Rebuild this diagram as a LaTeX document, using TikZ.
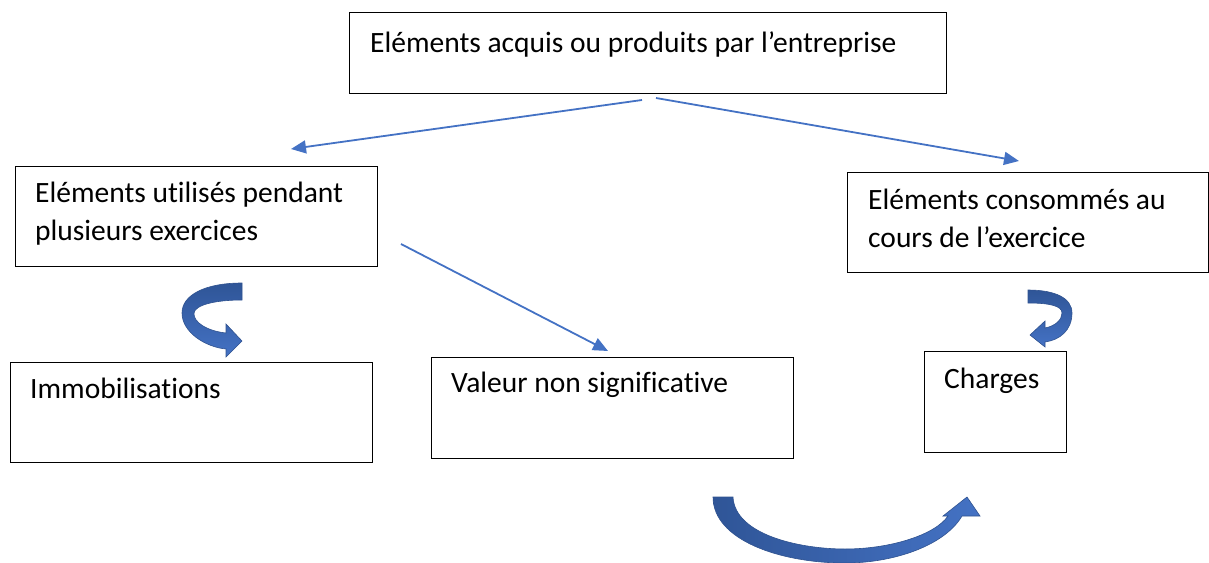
\documentclass[tikz,border=0pt]{standalone}
\usepackage{fontspec}
\setmainfont[Ligatures=NoCommon]{Carlito}
\usetikzlibrary{arrows.meta,calc}
\definecolor{lineblue}{HTML}{4472C4}
\definecolor{darkblue}{HTML}{2F5597}
\definecolor{edgeblue}{HTML}{2F528F}
\tikzset{
  box/.style={draw=black,line width=1pt,anchor=north west,inner sep=0pt,fill=white},
  lbl/.style={anchor=base west,inner sep=0pt,font=\fontsize{29.5}{38}\selectfont,align=left},
  conn/.style={draw=lineblue,line width=1.8pt,-{Triangle[length=15pt,width=13pt]}},
  curvearrow/.style={draw=edgeblue,line width=0.6pt}
}
\begin{document}
\begin{tikzpicture}[x=1pt,y=-1pt]
\useasboundingbox (0,0) rectangle (1209,562);
% boxes
\node[box,minimum width=597pt,minimum height=81pt] (top) at (349,12) {};
\node[box,minimum width=362pt,minimum height=100pt] (left) at (15,166) {};
\node[box,minimum width=361pt,minimum height=100pt] (right) at (847,172) {};
\node[box,minimum width=362pt,minimum height=100pt] (immo) at (10,362) {};
\node[box,minimum width=362pt,minimum height=101pt] (val) at (431,357) {};
\node[box,minimum width=142pt,minimum height=101pt] (chg) at (924,351) {};
% texts (base anchor = last line's baseline)
\node[lbl] (ttop) at (370,52) {Eléments acquis ou produits par l’entreprise};
\node[lbl] (tleft) at (35,240) {Eléments utilisés pendant\\plusieurs exercices};
\node[lbl] (tright) at (868,247) {Eléments consommés au\\cours de l’exercice};
\node[lbl] (timmo) at (30,398) {Immobilisations};
\node[lbl] (tval) at (451,392) {Valeur non significative};
\node[lbl] (tchg) at (944,388) {Charges};
% connectors
\coordinate (s1) at (656,98);
\coordinate (e1) at (1019,161);
\coordinate (s2) at (642,100);
\coordinate (e2) at (291,149);
\coordinate (s3) at (401,244);
\coordinate (e3) at (608,351);
\draw[conn] (s1) -- (e1);
\draw[conn] (s2) -- (e2);
\draw[conn] (s3) -- (e3);
% curved arrow left
\path[curvearrow,top color=darkblue,bottom color=lineblue]
  (242,283) .. controls (205,283) and (182,295) .. (182,313)
  .. controls (182,332) and (205,347) .. (226,349) -- (226,357) -- (242,341) -- (226,324) -- (226,333)
  .. controls (207,331) and (193,322) .. (194,313)
  .. controls (195,305) and (215,300) .. (242,300) -- cycle;
% curved arrow right
\path[curvearrow,top color=darkblue,bottom color=lineblue]
  (1028,290) .. controls (1055,290) and (1072,298) .. (1072,313)
  .. controls (1072,330) and (1060,340) .. (1045,342) -- (1045,347) -- (1030,335) -- (1045,321) -- (1045,328)
  .. controls (1055,326) and (1062,320) .. (1062,313)
  .. controls (1062,306) and (1050,303) .. (1028,303) -- cycle;
% curved arrow bottom
\path[curvearrow,left color=darkblue,right color=lineblue]
  (713,497) -- (733,497)
  .. controls (735,535) and (800,549) .. (845,549)
  .. controls (890,549) and (935,535) .. (948,516)
  -- (943,516) -- (967,497) -- (980,516) -- (962,516)
  .. controls (945,545) and (895,563) .. (845,563)
  .. controls (780,563) and (713,540) .. (713,497) -- cycle;
\end{tikzpicture}
\end{document}
